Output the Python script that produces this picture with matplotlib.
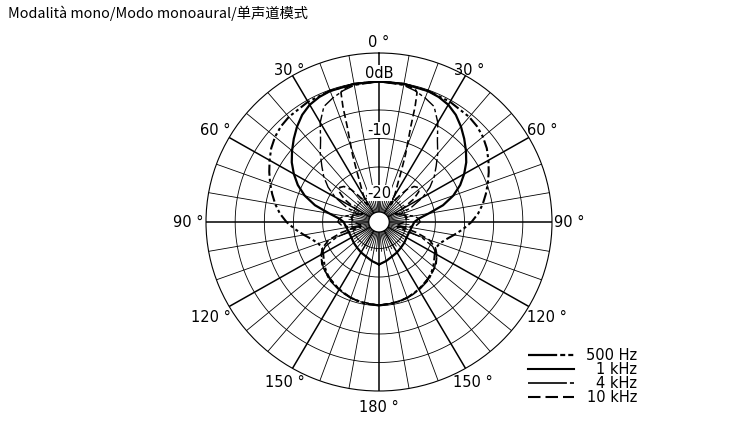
import numpy as np
import matplotlib.pyplot as plt
from matplotlib.lines import Line2D

plt.rcParams['lines.scale_dashes'] = False

# polar response in dB, one side only (pattern is symmetric)
ang_500 = [0, 10, 20, 30, 40, 45, 50, 55, 60, 65, 70, 75, 80, 85, 90, 95, 100, 105,
           110, 115, 120, 125, 130, 135, 140, 150, 160, 170, 180]
db_500 = [0, -0.05, -0.15, -0.3, -0.6, -0.9, -1.4, -2.1, -3.0, -3.9, -4.8, -5.7, -6.6,
          -7.6, -8.8, -10.2, -11.6, -12.8, -13.6, -13.9, -13.6, -13.1, -12.5, -12.0,
          -11.6, -11.0, -10.5, -10.15, -10.0]

ang_1k = [0, 10, 20, 25, 30, 35, 40, 45, 50, 55, 60, 65, 70, 75, 80, 85, 90, 100,
          110, 120, 130, 140, 150, 160, 170, 180]
db_1k = [0, -0.05, -0.2, -0.45, -0.9, -1.7, -2.8, -4.0, -5.2, -6.4, -7.8, -9.3, -11.1,
         -13.3, -16.0, -17.8, -18.6, -19.0, -19.2, -19.2, -19.0, -18.8, -18.5, -18.2,
         -17.7, -17.2]

ang_4k = [0, 10, 15, 20, 25, 30, 35, 40, 45, 50, 55, 60, 65, 70, 75, 80, 85, 90, 95,
          100, 105, 110, 115, 120, 130, 140, 150, 160, 170, 180]
db_4k = [0, -0.3, -0.8, -1.5, -2.3, -4.5, -7.2, -9.0, -10.8, -12.3, -14.0, -16.0, -18.5,
         -21.0, -20.0, -18.6, -17.8, -17.6, -18.2, -19.6, -21.5, -17.0, -14.5, -13.2,
         -12.2, -11.4, -10.9, -10.5, -10.2, -10.1]

ang_10k = [0, 8, 12, 15, 16, 17, 18, 19, 21, 23, 25, 28, 31, 34, 37, 40, 44, 48, 52,
           56, 60, 64, 70, 80, 90, 100, 106, 110, 115, 120, 127, 135, 145, 155, 165, 180]
db_10k = [0, -0.1, -0.3, -0.6, -1.0, -3.5, -7.0, -9.0, -12.0, -14.8, -16.8, -18.5,
          -19.8, -21.0, -19.0, -17.2, -16.0, -15.6, -16.0, -17.5, -20.0, -21.5, -20.5,
          -19.8, -20.3, -21.5, -18.0, -15.5, -14.0, -13.2, -12.4, -11.9, -11.3, -10.7,
          -10.3, -10.0]

labels = ['500 Hz', '1 kHz', '4 kHz', '10 kHz']
db_rings = [0, -5, -10, -15, -20]


def mirror(a, d):
    a = np.array(a, float)
    d = np.array(d, float)
    th = np.concatenate([-a[::-1], a[1:]])
    return np.deg2rad(th), np.concatenate([d[::-1], d[1:]])


fig = plt.figure(figsize=(7.53, 4.31), dpi=100)
# the original is slightly wider than tall
ax = fig.add_axes([206 / 753, 39 / 431, 346 / 753, 338 / 431], projection='polar')
ax.set_aspect('auto')
ax.set_theta_zero_location('N')
ax.set_theta_direction(-1)
r0, rmax = -24.66, 5.0
ax.set_ylim(r0, rmax)
ax.grid(False)
ax.set_xticks([])
ax.set_yticks([])
ax.spines['polar'].set_linewidth(0.8)

full = np.linspace(0, 2 * np.pi, 361)
for d in db_rings:
    ax.plot(full, [d] * len(full), color='k', lw=0.6, zorder=1)
r_in = -22.9
for a in range(0, 360, 10):
    t = np.deg2rad(a)
    ax.plot([t, t], [r_in, rmax], color='k', lw=1.1 if a % 30 == 0 else 0.6, zorder=1)
for a in range(5, 360, 10):
    t = np.deg2rad(a)
    ax.plot([t, t], [r_in, -19.5], color='k', lw=0.6, zorder=1)
ax.fill(full, [r_in] * len(full), facecolor='white', edgecolor='k', lw=0.9, zorder=5)

styles = [dict(lw=1.5, ls=(0, (8, 2.2, 2.2, 2.2, 2.2, 2.2))),
          dict(lw=1.6, ls='-'),
          dict(lw=1.0, ls=(0, (9, 2.2, 2.5, 2.2))),
          dict(lw=1.2, ls=(0, (5, 2.5)))]
for (a, d), st in zip([(ang_500, db_500), (ang_1k, db_1k), (ang_4k, db_4k), (ang_10k, db_10k)], styles):
    th, rr = mirror(a, d)
    ax.plot(th, rr, color='k', zorder=3, **st)

font = 'DejaVu Sans'
for rr, txt in [(1.55, '0dB'), (-8.45, '-10'), (-19.5, '-20')]:
    ax.text(0, rr, txt, ha='center', va='center', fontsize=10.5, family=font, zorder=6,
            bbox=dict(facecolor='white', edgecolor='none', pad=0.3))

ang_lab = [0, 30, 60, 90, 120, 150, 180]
fac = {0: 1.07, 30: 1.04, 60: 1.09, 90: 1.10, 120: 1.12, 150: 1.09, 180: 1.09}
for a in ang_lab:
    for s in ([1] if a in (0, 180) else [-1, 1]):
        t = np.deg2rad(a) * s
        f = fac[a]
        ax.text(0.5 + 0.5 * f * np.sin(t), 0.5 + 0.5 * f * np.cos(t), f'{a} °',
                transform=ax.transAxes, ha='center', va='center', fontsize=10.5,
                family=font)

fig.text(8 / 753, 1 - 13 / 431, 'Modalità mono/Modo monoaural/单声道模式', ha='left',
         va='center', fontsize=10.3, family=['Noto Sans CJK SC', 'DejaVu Sans'])

leg_styles = [dict(lw=1.6, ls=(0, (21, 2.2, 3.6, 2.2, 3.6, 10))),
              dict(lw=1.5, ls='-'),
              dict(lw=1.2, ls=(0, (28, 2.2, 3.6, 10))),
              dict(lw=1.5, ls=(0, (9, 3.6)))]
for i, (lab, st) in enumerate(zip(labels, leg_styles)):
    y = 1 - (356 + 14 * i) / 431
    fig.add_artist(Line2D([528 / 753, 574 / 753], [y, y], color='k', **st))
    fig.text(637 / 753, y, lab, ha='right', va='center', fontsize=10.5, family=font)

fig.savefig('out.png', dpi=100)
